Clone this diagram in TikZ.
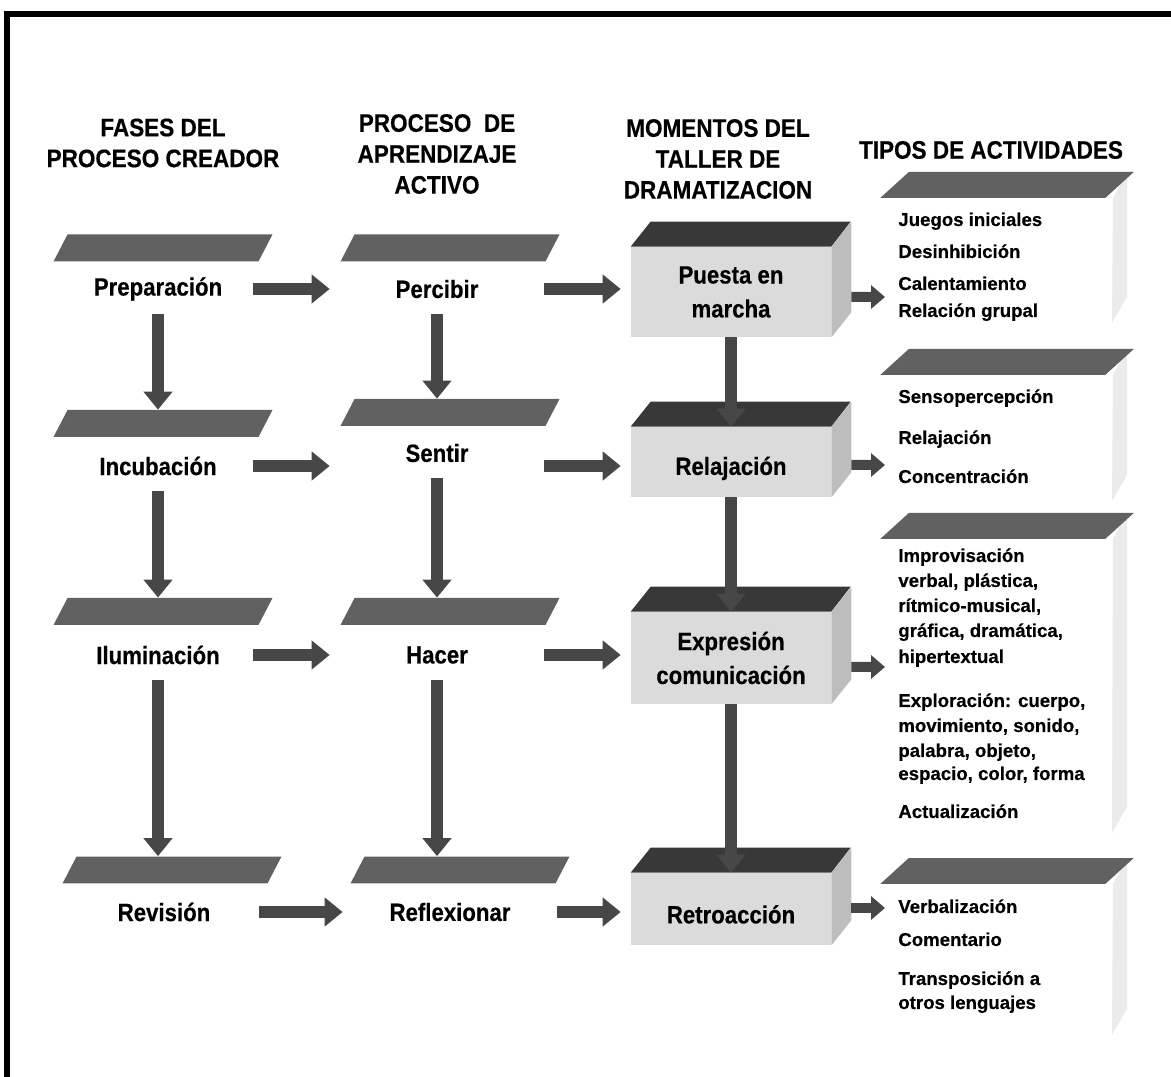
\documentclass[tikz,border=0pt]{standalone}
\usepackage{fontspec}
\setmainfont{Liberation Sans}[FakeBold=0.4]
\newfontfamily\narrowfont{Liberation Sans}[FakeStretch=0.89,FakeBold=0.4]
\usepackage{tikz}
\usetikzlibrary{arrows.meta,positioning,calc}
\definecolor{bandgray}{gray}{0.38}
\definecolor{topgray}{gray}{0.22}
\definecolor{frontgray}{gray}{0.86}
\definecolor{sidegray}{gray}{0.74}
\definecolor{stripgray}{gray}{0.92}
\definecolor{arrowgray}{gray}{0.28}
\newcommand{\hdsize}{\narrowfont\fontsize{14.4}{17.6}\selectfont}
\newcommand{\lblsize}{\narrowfont\fontsize{14.2}{19.3}\selectfont}
\newcommand{\actsize}{\fontsize{10.6}{14}\selectfont}

\begin{document}
\begin{tikzpicture}[x=0.02cm,y=-0.02cm,
  every node/.style={font=\bfseries,inner sep=0pt},
  hd/.style={align=center,font=\hdsize\bfseries},
  band/.style={fill=bandgray,minimum width=4.1cm,minimum height=0.54cm,xslant=0.52},
  actband/.style={band,minimum width=4.5cm,minimum height=0.52cm,xslant=0.58},
  lbl/.style={minimum width=3.8cm,minimum height=1cm,font=\lblsize\bfseries},
  lbltwo/.style={lbl,minimum width=4.28cm},
  front/.style={fill=frontgray,minimum width=4cm,align=center,font=\lblsize\bfseries},
  act/.style={anchor=base west,font=\actsize\bfseries},
  fat/.style={draw=arrowgray,line width=0.24cm,-{Triangle[width=0.56cm,length=0.36cm]}},
  slim/.style={draw=arrowgray,line width=0.2cm,-{Triangle[width=0.46cm,length=0.28cm]}}
]
  \useasboundingbox (0,0) rectangle (1171,1077);
  \draw[line width=0.12cm] (7,1077) -- (7,14.5) -- (1171,14.5);

  % headers
  \node[hd] (h1) at (163,143) {FASES DEL\\PROCESO CREADOR};
  \node[hd] (h2) at (437,154) {PROCESO\ \ DE\\APRENDIZAJE\\ACTIVO};
  \node[hd] (h3) at (718,159) {MOMENTOS DEL\\TALLER DE\\DRAMATIZACION};
  \node[hd] (h4) at (991,150) {TIPOS DE ACTIVIDADES};

  % bands of the first two columns
  \node[band] (p1) at (163,248) {};
  \node[band] (p2) at (163,423.5) {};
  \node[band] (p3) at (163,611.5) {};
  \node[band] (p4) at (172,870) {};
  \node[band] (q1) at (450,248) {};
  \node[band] (q2) at (450,412.5) {};
  \node[band] (q3) at (450,611.5) {};
  \node[band] (q4) at (460,870) {};

  % phases
  \node[lbl] (t1) at (158,289) {Preparación};
  \node[lbl] (t2) at (158,466) {Incubación};
  \node[lbl] (t3) at (158,655) {Iluminación};
  \node[lbl] (t4) at (164,912) {Revisión};
  \node[lbltwo] (s1) at (437,289) {Percibir};
  \node[lbltwo] (s2) at (437,453) {Sentir};
  \node[lbltwo] (s3) at (437,655) {Hacer};
  \node[lbltwo] (s4) at (450,912) {Reflexionar};

  % boxes of the workshop
  \node[front,minimum height=1.8cm] (b1) at (731,292) {Puesta en\\marcha};
  \node[front,minimum height=1.4cm,text height=0.62cm] (b2) at (731,462) {Relajación};
  \node[front,minimum height=1.84cm] (b3) at (731,658) {Expresión\\comunicación};
  \node[front,minimum height=1.44cm,text height=0.58cm] (b4) at (731,909) {Retroacción};
  \foreach \b in {b1,b2,b3,b4} {
    \fill[topgray] (\b.north west) -- ++(20,-25) -- ++(200,0) -- (\b.north east) -- cycle;
    \fill[sidegray] (\b.north east) -- ++(20,-25) -- ([shift={(20,-25)}]\b.south east) -- (\b.south east) -- cycle;
  }

  % activity bands
  \fill[stripgray] (1113,198) -- (1127,172) -- ++(0,125) -- ++(-15,26) -- cycle;
  \fill[stripgray] (1113,375) -- (1127,349) -- ++(0,126) -- ++(-15,26) -- cycle;
  \fill[stripgray] (1113,539) -- (1127,513) -- ++(0,294) -- ++(-15,26) -- cycle;
  \fill[stripgray] (1113,884) -- (1127,858) -- ++(0,151) -- ++(-15,26) -- cycle;
  \node[actband] (c1) at (1007,185) {};
  \node[actband] (c2) at (1007,362) {};
  \node[actband] (c3) at (1007,526) {};
  \node[actband] (c4) at (1007,871) {};

  % activities
  \foreach \y/\t [count=\i] in {226/Juegos iniciales, 258/Desinhibición, 290/Calentamiento,
      317/Relación grupal, 403/Sensopercepción, 444/Relajación, 483/Concentración,
      562/Improvisación, 587/{verbal, plástica,}, 612/{rítmico-musical,},
      637/{gráfica, dramática,}, 663/hipertextual, 707/{Exploración: cuerpo,},
      732/{movimiento, sonido,}, 757/{palabra, objeto,}, 780/{espacio, color, forma},
      818/Actualización, 913/Verbalización, 946/Comentario, 985/Transposición a,
      1009/otros lenguajes}
    \node[act] (a\i) at (898,\y) {\t};

  % arrows
  \draw[fat] (t1.east) -- (t1.east -| s1.west);
  \draw[fat] (t2.east) -- (t2.east -| s2.west);
  \draw[fat] (t3.east) -- (t3.east -| s3.west);
  \draw[fat] (t4.east) -- (t4.east -| s4.west);
  \draw[fat,shorten >=0.2cm] (s1.east) -- (s1.east -| b1.west);
  \draw[fat,shorten >=0.2cm] (t2.east -| s2.east) -- (t2.east -| b2.west);
  \draw[fat,shorten >=0.2cm] (s3.east) -- (s3.east -| b3.west);
  \draw[fat,shorten >=0.2cm] (s4.east) -- (s4.east -| b4.west);
  \draw[fat] (t1.south) -- (t1.south |- p2.north);
  \draw[fat] (t2.south) -- (t2.south |- p3.north);
  \draw[fat] (t3.south) -- (t3.south |- p4.north);
  \draw[fat] (s1.south) -- (s1.south |- q2.north);
  \draw[fat] (s2.south) -- (s2.south |- q3.north);
  \draw[fat] (s3.south) -- (s3.south |- q4.north);
  \draw[fat] (b1.south) -- (b2.north);
  \draw[fat] (b2.south) -- (b3.north);
  \draw[fat] (b3.south) -- (b4.north);
  \draw[slim,shorten >=0.26cm] ([shift={(20,5)}]b1.east) -- ([yshift=-0.1cm]b1.east -| a1.west);
  \draw[slim,shorten >=0.26cm] ([shift={(20,3)}]b2.east) -- ([yshift=-0.06cm]b2.east -| a5.west);
  \draw[slim,shorten >=0.26cm] ([shift={(20,9)}]b3.east) -- ([yshift=-0.18cm]b3.east -| a8.west);
  \draw[slim,shorten >=0.26cm] ([shift={(20,-1)}]b4.east) -- ([yshift=0.02cm]b4.east -| a18.west);
\end{tikzpicture}
\end{document}
